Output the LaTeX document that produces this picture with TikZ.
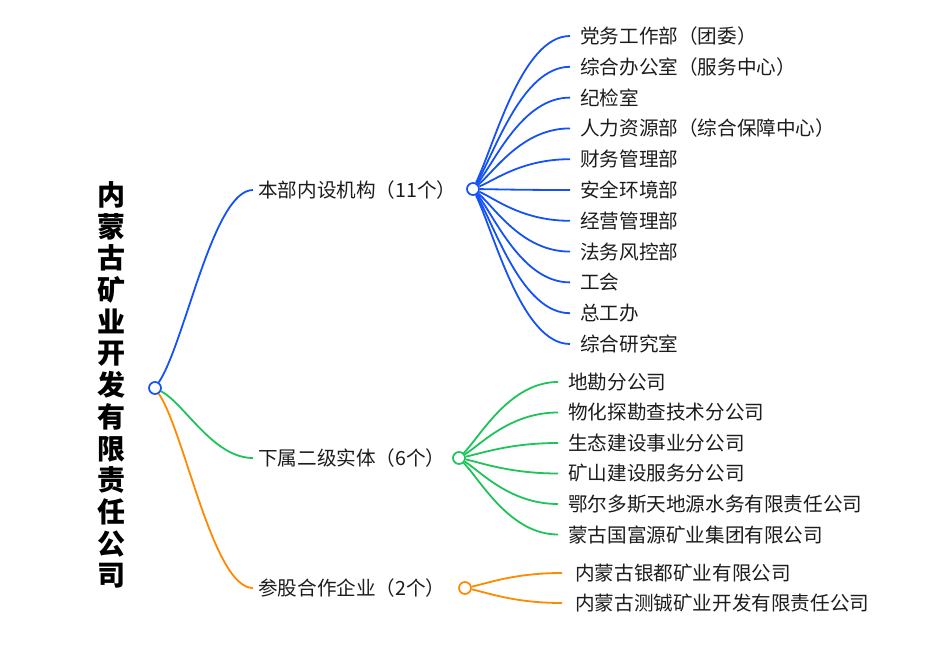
\documentclass[tikz,border=0pt]{standalone}
\usepackage{fontspec}
\newfontfamily\cjk{Noto Sans CJK SC}
\usepackage{tikz}
\usetikzlibrary{positioning,calc}
\definecolor{MindBlue}{HTML}{1452F5}
\definecolor{MindGreen}{HTML}{1EC35A}
\definecolor{MindOrange}{HTML}{FF8A00}
\definecolor{TextGray}{HTML}{1C1C1C}

\begin{document}
\begin{tikzpicture}[x=1pt,y=-1pt,
  dot/.style={circle,draw,fill=white,line width=1.7pt,minimum size=12pt,inner sep=0pt},
  branch/.style={anchor=west,inner xsep=5pt,inner ysep=0pt,text=TextGray,font=\cjk\fontsize{19.6}{19.6}\selectfont},
  leaf/.style={anchor=west,inner xsep=10pt,inner ysep=0pt,text=TextGray,font=\cjk\fontsize{19.6}{19.6}\selectfont},
  link/.style={line width=1.8pt}]
  \useasboundingbox (0,0) rectangle (942,650);

  % company name, vertical
  \node[align=center,text=black,font=\cjk\bfseries\fontsize{28}{31.7}\selectfont] (corp) at (111,385)
    {内\\蒙\\古\\矿\\业\\开\\发\\有\\限\\责\\任\\公\\司};

  % first level
  \node[dot,draw=MindBlue] (root) at (155,388) {};
  \node[branch] (dept) at (253,190) {本部内设机构（11个）};
  \node[branch] (sub) at (253,458) {下属二级实体（6个）};
  \node[branch] (share) at (253,588) {参股合作企业（2个）};
  \node[dot,draw=MindBlue] (deptdot) at (473,189) {};
  \node[dot,draw=MindGreen] (subdot) at (459,458) {};
  \node[dot,draw=MindOrange] (sharedot) at (465,588) {};

  \draw[MindBlue,link] (root) .. controls +(30,-45) and +(-40,0) .. (dept.west);
  \draw[MindGreen,link] (root) .. controls +(30,16) and +(-40,0) .. (sub.west);
  \draw[MindOrange,link] (root) .. controls +(30,45) and +(-40,0) .. (share.west);

  % departments
  \foreach \name [count=\i from 0] in {党务工作部（团委）,综合办公室（服务中心）,纪检室,人力资源部（综合保障中心）,财务管理部,安全环境部,经营管理部,法务风控部,工会,总工办,综合研究室}{
    \pgfmathsetmacro\ly{36+30.8*\i}
    \pgfmathsetmacro\dy{0.3*(\ly-189)}
    \node[leaf] (dept\i) at (570,\ly) {\name};
    \draw[MindBlue,link] (deptdot) .. controls +(22,\dy) and +(-48,0) .. (dept\i.west);
  }

  % subsidiaries
  \foreach \name [count=\i from 0] in {地勘分公司,物化探勘查技术分公司,生态建设事业分公司,矿山建设服务分公司,鄂尔多斯天地源水务有限责任公司,蒙古国富源矿业集团有限公司}{
    \pgfmathsetmacro\ly{382+30.5*\i}
    \pgfmathsetmacro\dy{0.3*(\ly-458)}
    \node[leaf] (sub\i) at (558,\ly) {\name};
    \draw[MindGreen,link] (subdot) .. controls +(22,\dy) and +(-48,0) .. (sub\i.west);
  }

  % shareholdings
  \foreach \name [count=\i from 0] in {内蒙古银都矿业有限公司,内蒙古测铖矿业开发有限责任公司}{
    \pgfmathsetmacro\ly{573+30*\i}
    \pgfmathsetmacro\dy{0.3*(\ly-588)}
    \node[leaf,inner xsep=13pt] (share\i) at (562,\ly) {\name};
    \draw[MindOrange,link] (sharedot) .. controls +(22,\dy) and +(-48,0) .. (share\i.west);
  }
\end{tikzpicture}
\end{document}
